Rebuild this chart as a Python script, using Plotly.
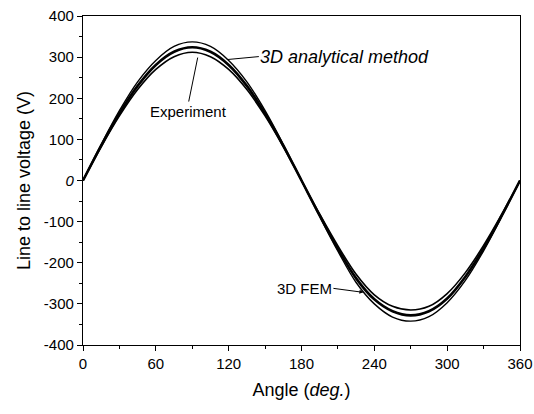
import plotly.graph_objects as go

angle = [0, 15, 30, 45, 60, 75, 90, 105, 120, 135, 150, 165, 180,
         195, 210, 225, 240, 255, 270, 285, 300, 315, 330, 345, 360]

analytical = [0, 88, 170, 240, 292, 326, 337, 326, 292, 240, 170, 88, 0,
              -88, -172, -248, -300, -332, -342, -331, -297, -243, -171, -88, 0]
fem = [0, 85, 163, 230, 281, 313, 324, 313, 281, 230, 163, 85, 0,
       -85, -166, -238, -289, -318, -328, -318, -287, -234, -165, -85, 0]
experiment = [0, 82, 157, 221, 270, 301, 312, 301, 270, 221, 157, 82, 0,
              -82, -159, -228, -278, -306, -315, -306, -275, -224, -158, -82, 0]

x_ticks = [0, 60, 120, 180, 240, 300, 360]
y_ticks = [400, 300, 200, 100, 0, -100, -200, -300, -400]
y_ticklabels = ["400", "300", "200", "100", "<i>0</i>", "-100", "-200", "-300", "-400"]

FONT = "Liberation Sans, Arial, sans-serif"

fig = go.Figure()
for name, vals, w in [("3D analytical method", analytical, 1.4),
                      ("3D FEM", fem, 2.6),
                      ("Experiment", experiment, 1.6)]:
    fig.add_trace(go.Scatter(x=angle, y=vals, mode="lines", name=name,
                             line=dict(color="black", width=w, shape="spline", smoothing=1.0)))

axis_common = dict(showline=True, linecolor="black", linewidth=1.3, mirror=True,
                   ticks="outside", ticklen=5, tickwidth=1, tickcolor="black",
                   showgrid=False, zeroline=False, automargin=False,
                   ticklabeloverflow="allow",
                   tickfont=dict(family=FONT, size=15, color="black"))

fig.update_xaxes(range=[0, 360], tickvals=x_ticks, **axis_common,
                 minor=dict(ticks="outside", ticklen=3, dtick=30, tick0=0, tickcolor="black"),
                 title=dict(text="Angle (<i>deg.</i>)", font=dict(family=FONT, size=18, color="black"),
                            standoff=12))
fig.update_yaxes(range=[-400, 400], tickvals=y_ticks, ticktext=y_ticklabels, **axis_common,
                 minor=dict(ticks="outside", ticklen=3, dtick=50, tick0=0, tickcolor="black"),
                 title=dict(text="Line to line voltage (V)", font=dict(family=FONT, size=18, color="black"),
                            standoff=8))

ann_font = dict(family=FONT, size=15, color="black")
fig.add_annotation(x=118.5, y=294, ax=32, ay=-3, text="<i>3D analytical method</i>",
                   showarrow=True, arrowhead=0, arrowwidth=1, arrowcolor="black",
                   xanchor="left", yanchor="middle", font=dict(family=FONT, size=18, color="black"),
                   borderpad=0)
fig.add_annotation(x=94.5, y=299, ax=-9, ay=44, text="Experiment",
                   showarrow=True, arrowhead=0, arrowwidth=1, arrowcolor="black",
                   xanchor="center", yanchor="top", font=ann_font, borderpad=0)
fig.add_annotation(x=231, y=-272, ax=-30, ay=-4, text="3D FEM",
                   showarrow=True, arrowhead=2, arrowsize=0.8, arrowwidth=1, arrowcolor="black",
                   xanchor="right", yanchor="middle", font=ann_font, borderpad=0)

fig.update_layout(width=534, height=414, showlegend=False,
                  margin=dict(l=83, r=14, t=16, b=69),
                  paper_bgcolor="white", plot_bgcolor="white",
                  font=dict(family=FONT, color="black"))

# remove the page's default body margin so the figure sits at the window's top-left
fig.write_html("out.html",
               config={"displayModeBar": False},
               post_script="document.body.style.margin='0';document.body.style.overflow='hidden';")
